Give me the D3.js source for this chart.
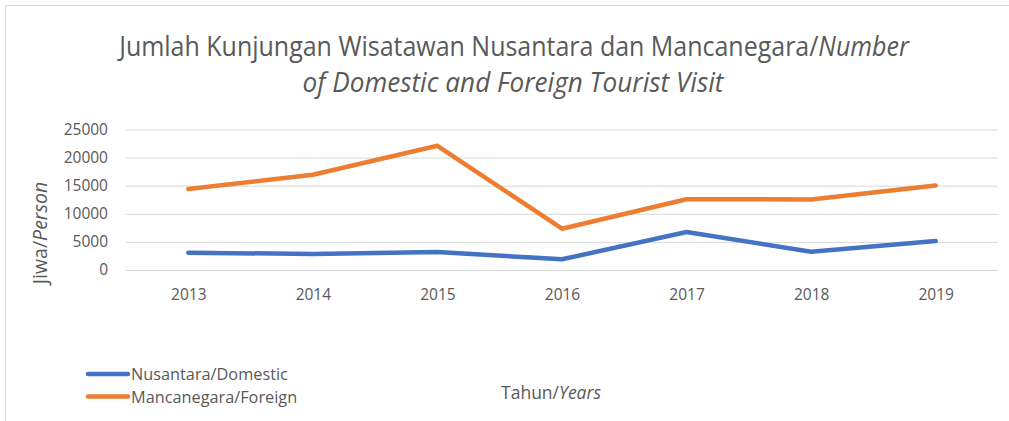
<!DOCTYPE html>
<html>
<head>
<meta charset="utf-8">
<script src="https://cdn.jsdelivr.net/npm/d3@7"></script>
<style>
  body { margin: 0; background: #fff; }
  text { font-family: "Open Sans", sans-serif; fill: #595959; }
</style>
</head>
<body>
<script>
const years = ['2013', '2014', '2015', '2016', '2017', '2018', '2019'];
const domestic = [3080, 2850, 3200, 1900, 6750, 3250, 5150];
const foreign = [14400, 16950, 22100, 7350, 12600, 12550, 15050];
const yTicks = [0, 5000, 10000, 15000, 20000, 25000];
const seriesNames = ['Nusantara/Domestic', 'Mancanegara/Foreign'];
const seriesColors = ['#4472c4', '#ed7d31'];

const width = 1009;
const height = 421;

const svg = d3.select('body').append('svg')
  .attr('width', width)
  .attr('height', height);

// chart frame
svg.append('rect')
  .attr('x', 5.5).attr('y', 5.5)
  .attr('width', 1020).attr('height', 430)
  .attr('fill', 'none')
  .attr('stroke', '#d9d9d9');

const plotLeft = 126, plotRight = 998, plotTop = 129.5, plotBottom = 270;

const x = d3.scalePoint().domain(years).range([plotLeft, plotRight]).padding(0.5);
const y = d3.scaleLinear().domain([0, 25000]).range([plotBottom, plotTop]);

// title: squeeze each line horizontally to the width seen in the reference
function fitLine(g, cx, baseline, targetWidth) {
  const w = g.node().getBBox().width;
  const k = Math.min(1, targetWidth / w);
  g.attr('transform', `translate(${cx},${baseline}) scale(${k},1)`);
}
const line1 = svg.append('g');
const t1 = line1.append('text').attr('text-anchor', 'middle').attr('font-size', 27);
t1.append('tspan').text('Jumlah Kunjungan Wisatawan Nusantara dan Mancanegara/');
t1.append('tspan').attr('font-style', 'italic').text('Number');
fitLine(line1, 514, 56, 794);

const line2 = svg.append('g');
line2.append('text').attr('text-anchor', 'middle').attr('font-size', 27)
  .attr('font-style', 'italic')
  .text('of Domestic and Foreign Tourist Visit');
fitLine(line2, 513, 92, 422);

// y axis with gridlines
const yAxis = svg.append('g')
  .attr('transform', `translate(${plotLeft},0)`)
  .call(d3.axisLeft(y).tickValues(yTicks).tickSize(-(plotRight - plotLeft)).tickPadding(18).tickFormat(d3.format('d')));
yAxis.select('.domain').remove();
yAxis.selectAll('.tick line').attr('stroke', '#d9d9d9');
yAxis.selectAll('.tick text').attr('font-size', 15.5).style('font-family', '"Open Sans", sans-serif').attr('fill', '#595959');

// x axis labels
const xAxis = svg.append('g')
  .attr('transform', `translate(0,${plotBottom})`)
  .call(d3.axisBottom(x).tickSize(0).tickPadding(19));
xAxis.select('.domain').remove();
xAxis.selectAll('.tick text').attr('font-size', 15.5).style('font-family', '"Open Sans", sans-serif').attr('fill', '#595959');

// lines
const line = d3.line()
  .x((d, i) => x(years[i]))
  .y(d => y(d));

[domestic, foreign].forEach((vals, i) => {
  svg.append('path')
    .datum(vals)
    .attr('d', line)
    .attr('fill', 'none')
    .attr('stroke', seriesColors[i])
    .attr('stroke-width', 4.5)
    .attr('stroke-linejoin', 'round')
    .attr('stroke-linecap', 'round');
});

// y axis title
const yt = svg.append('text')
  .attr('transform', 'translate(47,233) rotate(-90)')
  .attr('text-anchor', 'middle')
  .attr('font-size', 19.5);
yt.append('tspan').text('Jiwa/');
yt.append('tspan').attr('font-style', 'italic').text('Person');

// x axis title
const xt = svg.append('text')
  .attr('x', 551).attr('y', 399)
  .attr('text-anchor', 'middle')
  .attr('font-size', 17.5);
xt.append('tspan').text('Tahun/');
xt.append('tspan').attr('font-style', 'italic').text('Years');

// legend
const legend = svg.append('g')
  .selectAll('g')
  .data(seriesNames)
  .enter()
  .append('g')
  .attr('transform', (d, i) => `translate(88, ${374 + i * 22.5})`);

legend.append('line')
  .attr('x1', 0).attr('x2', 40)
  .attr('stroke', (d, i) => seriesColors[i])
  .attr('stroke-width', 4.5)
  .attr('stroke-linecap', 'round');

legend.append('text')
  .attr('x', 43).attr('y', 6)
  .attr('font-size', 16.3)
  .text(d => d);
</script>
</body>
</html>
